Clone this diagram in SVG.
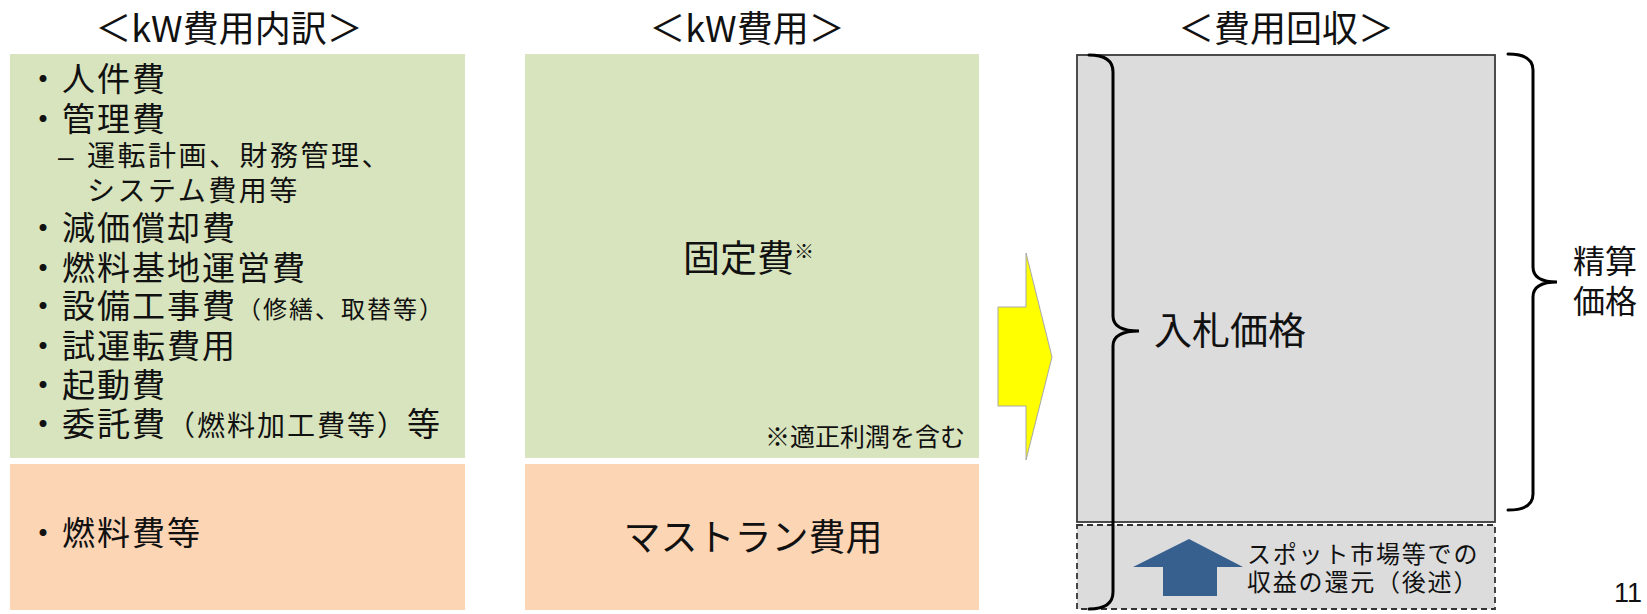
<svg xmlns="http://www.w3.org/2000/svg" width="1647" height="614" viewBox="0 0 1647 614">
<style>
text{font-family:"Noto Sans CJK JP","Noto Sans CJK SC",sans-serif;fill:#111;}
.title{font-size:36px;text-anchor:middle;}
.item{font-size:33px;letter-spacing:2px;}
.sub{font-size:28px;letter-spacing:2.5px;}
.par{font-size:28px;letter-spacing:2px;}
.par2{font-size:24px;letter-spacing:2px;}
.bul{text-anchor:middle;letter-spacing:0;}
.dash{font-family:"Liberation Sans",sans-serif;font-size:28px;letter-spacing:0;}
.green{fill:#d8e4bd;}
.orange{fill:#fcd5b5;}
.brace{fill:none;stroke:#000;stroke-width:3;stroke-linecap:round;}
</style>
<rect width="1647" height="614" fill="#fff"/>

<g id="titles">
<text class="title" x="229" y="42">＜kW費用内訳＞</text>
<text class="title" x="747" y="42">＜kW費用＞</text>
<text class="title" x="1286" y="42">＜費用回収＞</text>
</g>

<g id="breakdown-fixed">
<rect class="green" x="10" y="54" width="455" height="404"/>
<text class="item"><tspan class="bul" x="43" y="91">・</tspan><tspan x="62" y="91">人件費</tspan><tspan class="bul" x="43" y="131">・</tspan><tspan x="62" y="131">管理費</tspan><tspan class="dash" x="58" y="166">–</tspan><tspan class="sub" x="87" y="166">運転計画、財務管理、</tspan><tspan class="sub" x="87" y="201">システム費用等</tspan><tspan class="bul" x="43" y="240">・</tspan><tspan x="62" y="240">減価償却費</tspan><tspan class="bul" x="43" y="280">・</tspan><tspan x="62" y="280">燃料基地運営費</tspan><tspan class="bul" x="43" y="318">・</tspan><tspan x="62" y="318">設備工事費</tspan><tspan class="par2">（修繕、取替等）</tspan><tspan class="bul" x="43" y="358">・</tspan><tspan x="62" y="358">試運転費用</tspan><tspan class="bul" x="43" y="397">・</tspan><tspan x="62" y="397">起動費</tspan><tspan class="bul" x="43" y="436">・</tspan><tspan x="62" y="436">委託費</tspan><tspan class="par">（燃料加工費等）</tspan><tspan>等</tspan></text>
</g>

<g id="breakdown-fuel">
<rect class="orange" x="10" y="464" width="455" height="146"/>
<text class="item"><tspan class="bul" x="43" y="545">・</tspan><tspan x="62" y="545">燃料費等</tspan></text>
</g>

<g id="kw-fixed">
<rect class="green" x="525" y="54" width="454" height="404"/>
<text x="683" y="272" style="font-size:37px">固定費<tspan style="font-size:20px" dy="-13">※</tspan></text>
<text x="965" y="446" style="font-size:25px;text-anchor:end">※適正利潤を含む</text>
</g>

<g id="kw-mustrun">
<rect class="orange" x="525" y="464" width="454" height="146"/>
<text x="753" y="551" style="font-size:37px;text-anchor:middle">マストラン費用</text>
</g>

<g id="recovery">
<rect x="1077" y="55" width="418" height="467" fill="#dcdcdc" stroke="#3a3a3a" stroke-width="1.8"/>
<text x="1154" y="344" style="font-size:38px">入札価格</text>
</g>

<g id="spot-return">
<rect x="1077" y="525" width="418" height="84" fill="#dcdcdc" stroke="#333" stroke-width="1.8" stroke-dasharray="6,4"/>
<text style="font-size:24px;letter-spacing:1.8px"><tspan x="1247" y="563">スポット市場等での</tspan><tspan x="1247" y="591">収益の還元（後述）</tspan></text>
</g>

<g id="settlement-label">
<text style="font-size:32px"><tspan x="1573" y="273">精算</tspan><tspan x="1573" y="313">価格</tspan></text>
</g>

<g id="connectors">
<polygon points="998,307 1026,307 1026,253 1052,357 1026,460 1026,406 998,406" fill="#ffff00" stroke="#a8a8a8" stroke-width="1"/>
<polygon points="1189,539 1243,567 1217,567 1217,596 1163,596 1163,567 1133,567" fill="#37608f"/>
<path class="brace" d="M1089,55 Q1113,55 1113,72 L1113,316 Q1113,331 1139,331 Q1113,331 1113,346 L1113,592 Q1113,609 1089,609"/>
<path class="brace" d="M1508,54 Q1533,54 1533,70 L1533,267 Q1533,282 1557,282 Q1533,282 1533,297 L1533,494 Q1533,510 1508,510"/>
</g>

<text x="1614" y="602" style="font-family:'Liberation Sans',sans-serif;font-size:27px">11</text>
</svg>
